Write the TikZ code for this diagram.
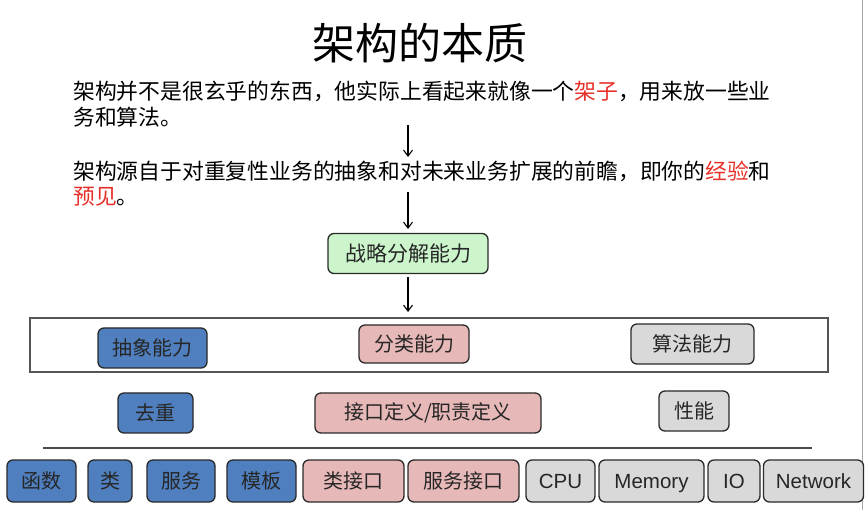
\documentclass[tikz,border=0pt]{standalone}
\usepackage{fontspec}
\setmainfont{Liberation Sans}
\newfontfamily\cjk{Noto Sans CJK SC}
\usetikzlibrary{arrows.meta}
\definecolor{bluebox}{HTML}{4F7FBE}
\definecolor{pinkbox}{HTML}{E6B8B7}
\definecolor{graybox}{HTML}{D9D9D9}
\definecolor{greenbox}{HTML}{CCF5CC}
\definecolor{redtxt}{HTML}{E8302A}
\definecolor{edge}{HTML}{2A2A2A}
\begin{document}
\begin{tikzpicture}[x=1pt,y=-1pt,
  card/.style={draw=edge, line width=1.3pt, rounded corners=6pt, inner sep=0pt,
    font=\cjk\fontsize{20}{24}\selectfont, text=black!85},
  bluecard/.style={card, fill=bluebox},
  pinkcard/.style={card, fill=pinkbox},
  graycard/.style={card, fill=graybox},
  latincard/.style={card, fill=graybox, font=\fontsize{20.5}{24}\selectfont,
    text height=14.7pt, text depth=0pt},
  para/.style={anchor=west, inner sep=0pt, font=\cjk\fontsize{21.8}{26}\selectfont},
  arr/.style={-{Straight Barb[length=6pt,width=9pt]}, line width=1.1pt, black}]
\useasboundingbox (0,0) rectangle (865,510);
\fill[white] (0,0) rectangle (865,510);
% right edge line
\coordinate (edgeT) at (862.5,0);
\coordinate (edgeB) at (862.5,510);
\draw[gray!70, line width=1.5pt] (edgeT) -- (edgeB);

% title
\node[font=\cjk\fontsize{43}{48}\selectfont] (title) at (420,43) {架构的本质};

% paragraphs
\node[para] (p1a) at (73,91) {架构并不是很玄乎的东西，他实际上看起来就像一个\textcolor{redtxt}{架子}，用来放一些业};
\node[para] (p1b) at (73,117) {务和算法。};
\node[para] (p2a) at (73,171) {架构源自于对重复性业务的抽象和对未来业务扩展的前瞻，即你的\textcolor{redtxt}{经验}和};
\node[para] (p2b) at (73,197) {\textcolor{redtxt}{预见}。};

\coordinate (a1s) at (408,125);
\coordinate (a1e) at (408,157);
\coordinate (a2s) at (408,192);
\coordinate (a2e) at (408,229);
\draw[arr] (a1s) -- (a1e);
\draw[arr] (a2s) -- (a2e);

% strategy box
\node[card, fill=greenbox, minimum width=160pt, minimum height=40pt, font=\cjk\fontsize{21}{24}\selectfont] (strat) at (408,253.5) {战略分解能力};

% frame
\node[draw=edge!80, line width=1.2pt, minimum width=798pt, minimum height=54pt, inner sep=0pt] (frame) at (429,345) {};
\coordinate (a3e) at (408,312);
\draw[arr] ([yshift=-3pt]strat.south -| a3e) -- (a3e);

% ability row
\node[bluecard, minimum width=109pt, minimum height=40pt] (abs) at (152.5,348) {抽象能力};
\node[pinkcard, minimum width=110pt, minimum height=38pt] (cls) at (414,344) {分类能力};
\node[graycard, minimum width=123pt, minimum height=40pt] (alg) at (692.5,344) {算法能力};

% second row
\node[bluecard, minimum width=75pt, minimum height=40pt] (dedup) at (155.5,413) {去重};
\node[pinkcard, minimum width=226pt, minimum height=40pt] (iface) at (428,413) {接口定义/职责定义};
\node[graycard, minimum width=70pt, minimum height=40pt] (perf) at (694,411) {性能};

% separator
\coordinate (sepL) at (43,448);
\coordinate (sepR) at (812,448);
\draw[edge!85, line width=1.5pt] (sepL) -- (sepR);

% bottom row
\node[bluecard, minimum width=69pt, minimum height=42pt] (fn) at (41.5,481) {函数};
\node[bluecard, minimum width=44pt, minimum height=42pt] (klass) at (110,481) {类};
\node[bluecard, minimum width=68pt, minimum height=42pt] (svc) at (181,481) {服务};
\node[bluecard, minimum width=69pt, minimum height=42pt] (tpl) at (261.5,481) {模板};
\node[pinkcard, minimum width=101pt, minimum height=42pt] (ci) at (353.5,481) {类接口};
\node[pinkcard, minimum width=111pt, minimum height=42pt] (si) at (463.5,481) {服务接口};
\node[latincard, minimum width=69pt, minimum height=42pt] (cpu) at (560.5,481) {CPU};
\node[latincard, minimum width=105pt, minimum height=42pt] (mem) at (651.5,481) {Memory};
\node[latincard, minimum width=52pt, minimum height=42pt] (io) at (734,481) {IO};
\node[latincard, minimum width=100pt, minimum height=42pt] (net) at (813.5,481) {Network};
\end{tikzpicture}
\end{document}
